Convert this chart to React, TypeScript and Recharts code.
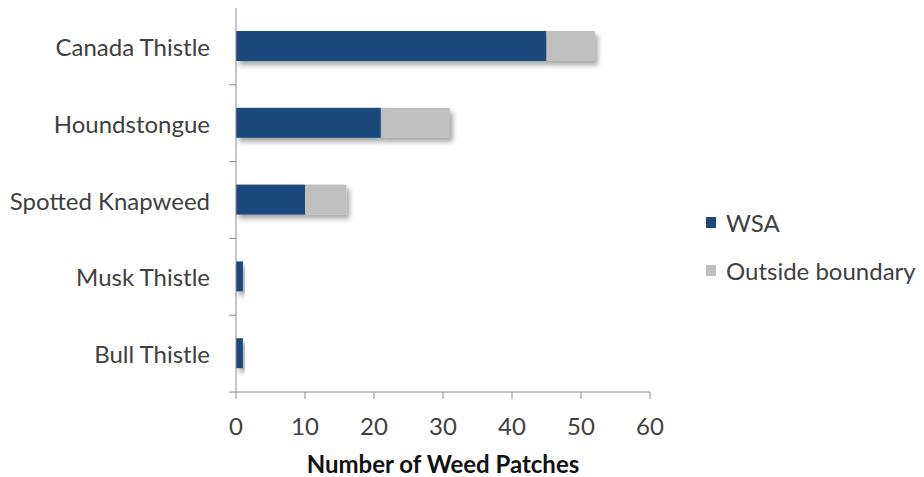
import React from "react";
import { BarChart, Bar, XAxis, YAxis, Legend } from "recharts";

// Weed patch counts by species
const species = ["Canada Thistle", "Houndstongue", "Spotted Knapweed", "Musk Thistle", "Bull Thistle"];
const wsaCounts = [45, 21, 10, 1, 1];
const outsideCounts = [7, 10, 6, 0, 0];
const xTicks = [0, 10, 20, 30, 40, 50, 60];

const data = species.map((name, i) => ({
  name,
  wsa: wsaCounts[i],
  outside: outsideCounts[i],
}));

const WIDTH = 924;
const HEIGHT = 477;
const TOP = 8;
const BOTTOM_AXIS = 85;
const BAND = (HEIGHT - TOP - BOTTOM_AXIS) / species.length;

const FONT = "Lato, 'Open Sans', sans-serif";
const TEXT = "#404040";
const AXIS = "#8c8c8c";

const ShadowRect = (props: any) => {
  const { x, y, width, height, fill } = props;
  if (!width || width <= 0) return null;
  return <rect x={x} y={y} width={width} height={height} fill={fill} filter="url(#barShadow)" />;
};

// Category labels with Excel-style tick marks on the band boundaries
const CategoryTick = (props: any) => {
  const { x, y, payload } = props;
  const axisX = x + 6;
  const boundary = y + BAND / 2;
  return (
    <g>
      <line x1={axisX - 7} x2={axisX} y1={boundary} y2={boundary} stroke={AXIS} strokeWidth={1} />
      <text x={axisX - 26} y={y} textAnchor="end" dominantBaseline="central" fill={TEXT} fontSize={24} fontFamily={FONT}>
        {payload.value}
      </text>
    </g>
  );
};

const LegendContent = () => {
  const items = [
    { label: "WSA", color: "#1f497d" },
    { label: "Outside boundary", color: "#bfbfbf" },
  ];
  return (
    <div style={{ fontFamily: FONT, fontSize: 24, color: TEXT }}>
      {items.map((it) => (
        <div key={it.label} style={{ display: "flex", alignItems: "center", height: 48 }}>
          <span style={{ width: 10, height: 11, background: it.color, marginRight: 10, display: "inline-block" }} />
          <span>{it.label}</span>
        </div>
      ))}
    </div>
  );
};

export default function App() {
  return (
    <div style={{ position: "absolute", left: 0, top: 0, width: WIDTH, height: HEIGHT, background: "#fff" }}>
      <svg width={0} height={0} style={{ position: "absolute" }}>
        <defs>
          <filter id="barShadow" x="-10%" y="-30%" width="130%" height="180%">
            <feDropShadow dx={3} dy={4} stdDeviation={2.5} floodColor="#000" floodOpacity={0.35} />
          </filter>
        </defs>
      </svg>
      <BarChart
        width={WIDTH}
        height={HEIGHT}
        data={data}
        layout="vertical"
        margin={{ top: TOP, right: 274, bottom: 0, left: 0 }}
      >
        <XAxis
          type="number"
          domain={[0, 60]}
          ticks={xTicks}
          interval={0}
          height={BOTTOM_AXIS}
          axisLine={{ stroke: AXIS }}
          tickLine={{ stroke: AXIS }}
          tickSize={7}
          tickMargin={19}
          tick={{ fill: TEXT, fontSize: 24, fontFamily: FONT }}
          label={{
            value: "Number of Weed Patches",
            position: "insideBottom",
            offset: 4,
            fill: "#111",
            fontSize: 24,
            fontWeight: 700,
            fontFamily: FONT,
          }}
        />
        <YAxis
          type="category"
          dataKey="name"
          width={236}
          axisLine={{ stroke: AXIS }}
          tickLine={false}
          tickMargin={0}
          tick={<CategoryTick />}
        />
        <Legend
          layout="vertical"
          align="center"
          verticalAlign="middle"
          wrapperStyle={{ left: 706, top: 198, width: 218 }}
          content={<LegendContent />}
        />
        <Bar dataKey="wsa" stackId="a" fill="#1f497d" barSize={30} shape={<ShadowRect />} isAnimationActive={false} />
        <Bar dataKey="outside" stackId="a" fill="#bfbfbf" barSize={30} shape={<ShadowRect />} isAnimationActive={false} />
      </BarChart>
    </div>
  );
}
